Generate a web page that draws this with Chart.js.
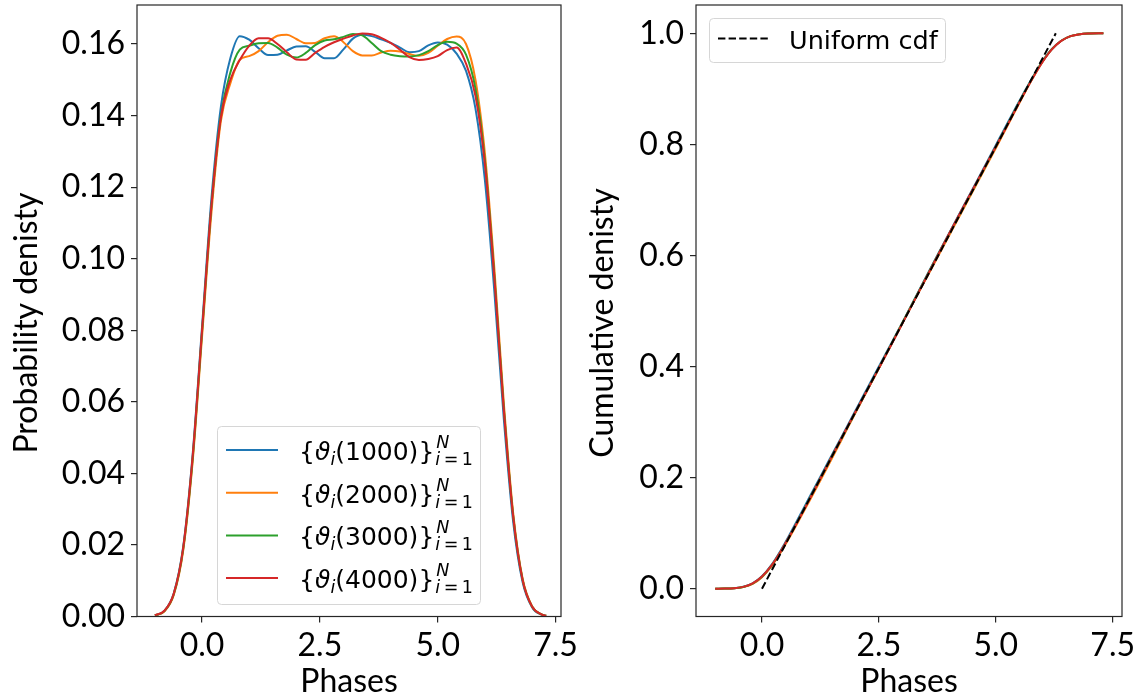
<!DOCTYPE html>
<html><head><meta charset="utf-8">
<script src="https://cdn.jsdelivr.net/npm/chart.js@4/dist/chart.umd.min.js"></script>
<style>
html,body{margin:0;padding:0;background:#fff;overflow:hidden;width:1141px;height:699px;position:relative;}
canvas{position:absolute;top:0;}
#c1{left:0px}
#c2{left:560px}
</style></head><body>
<canvas id="c1" width="600" height="699"></canvas>
<canvas id="c2" width="600" height="699"></canvas>
<script>
// ---------- data ----------
const phases = [-1.0,-0.8,-0.6,-0.4,-0.2,0.0,0.2,0.4,0.6,0.8,1.0,1.2,1.4,1.6,1.8,2.0,2.2,2.4,2.6,2.8,3.0,3.2,3.4,3.6,3.8,4.0,4.2,4.4,4.6,4.8,5.0,5.2,5.4,5.6,5.8,6.0,6.2,6.4,6.6,6.8,7.0,7.2,7.3];

const pdf1000 = [0.0003,0.0016,0.0065,0.0195,0.0452,0.0810,0.1170,0.1425,0.1560,0.1622,0.1612,0.1588,0.1569,0.1570,0.1582,0.1593,0.1594,0.1578,0.1560,0.1560,0.1585,0.1615,0.1626,0.1622,0.1613,0.1603,0.1590,0.1577,0.1580,0.1596,0.1604,0.1598,0.1573,0.1525,0.1420,0.1220,0.0910,0.0555,0.0265,0.0096,0.0026,0.0005,0.0002];
const pdf2000 = [0.0003,0.0014,0.0060,0.0184,0.0432,0.0782,0.1130,0.1385,0.1490,0.1556,0.1566,0.1580,0.1605,0.1623,0.1626,0.1614,0.1602,0.1603,0.1616,0.1622,0.1605,0.1580,0.1568,0.1568,0.1576,0.1581,0.1579,0.1572,0.1567,0.1575,0.1595,0.1614,0.1621,0.1600,0.1500,0.1295,0.0975,0.0600,0.0290,0.0106,0.0029,0.0006,0.0002];
const pdf3000 = [0.0003,0.0015,0.0062,0.0189,0.0440,0.0795,0.1148,0.1400,0.1520,0.1584,0.1595,0.1602,0.1603,0.1590,0.1570,0.1562,0.1575,0.1597,0.1610,0.1613,0.1620,0.1628,0.1624,0.1603,0.1580,0.1570,0.1566,0.1565,0.1569,0.1580,0.1597,0.1606,0.1601,0.1570,0.1475,0.1275,0.0955,0.0585,0.0282,0.0103,0.0028,0.0006,0.0002];
const pdf4000 = [0.0003,0.0016,0.0064,0.0192,0.0446,0.0800,0.1150,0.1395,0.1500,0.1555,0.1595,0.1616,0.1616,0.1600,0.1577,0.1557,0.1556,0.1575,0.1592,0.1605,0.1615,0.1624,0.1629,0.1627,0.1617,0.1603,0.1584,0.1563,0.1555,0.1558,0.1566,0.1583,0.1590,0.1545,0.1455,0.1265,0.0948,0.0580,0.0280,0.0102,0.0028,0.0006,0.0002];

const cdf1000 = [0.0000,0.0002,0.0009,0.0034,0.0098,0.0224,0.0425,0.0690,0.0990,0.1305,0.1624,0.1942,0.2258,0.2574,0.2890,0.3208,0.3527,0.3845,0.4160,0.4473,0.4790,0.5112,0.5436,0.5760,0.6080,0.6398,0.6715,0.7030,0.7347,0.7665,0.7985,0.8305,0.8620,0.8930,0.9228,0.9498,0.9717,0.9867,0.9950,0.9985,0.9997,1.0000,1.0000];
const cdf2000 = [0.0000,0.0002,0.0007,0.0030,0.0088,0.0208,0.0400,0.0653,0.0940,0.1245,0.1558,0.1873,0.2192,0.2516,0.2842,0.3166,0.3488,0.3809,0.4133,0.4457,0.4780,0.5098,0.5413,0.5726,0.6040,0.6356,0.6672,0.6987,0.7300,0.7614,0.7931,0.8253,0.8578,0.8900,0.9208,0.9490,0.9715,0.9867,0.9950,0.9985,0.9997,1.0000,1.0000];
const cdf3000 = [0.0000,0.0002,0.0008,0.0032,0.0093,0.0216,0.0412,0.0671,0.0965,0.1276,0.1594,0.1913,0.2233,0.2552,0.2868,0.3181,0.3496,0.3813,0.4134,0.4456,0.4780,0.5105,0.5430,0.5753,0.6071,0.6386,0.6700,0.7013,0.7326,0.7641,0.7959,0.8280,0.8601,0.8918,0.9220,0.9493,0.9715,0.9866,0.9950,0.9985,0.9997,1.0000,1.0000];
const cdf4000 = [0.0000,0.0002,0.0008,0.0033,0.0095,0.0219,0.0415,0.0672,0.0963,0.1270,0.1585,0.1907,0.2230,0.2553,0.2871,0.3185,0.3497,0.3810,0.4127,0.4447,0.4769,0.5093,0.5418,0.5744,0.6068,0.6390,0.6708,0.7022,0.7334,0.7646,0.7958,0.8273,0.8591,0.8906,0.9208,0.9484,0.9710,0.9864,0.9949,0.9985,0.9997,1.0000,1.0000];

const uniformX = [0, 6.2832];
const uniformY = [0, 1];

const seriesNames = ['1000','2000','3000','4000'];
const xTicks = [0, 2.5, 5, 7.5];
const pdfTicks = [0, 0.02, 0.04, 0.06, 0.08, 0.10, 0.12, 0.14, 0.16];
const cdfTicks = [0, 0.2, 0.4, 0.6, 0.8, 1.0];

// ---------- styling ----------
const colors = ['#1f77b4','#ff7f0e','#2ca02c','#d62728'];
const TICK_FONT = {family:'Lato', size:32};
const LEG_FAM = '"DejaVu Sans"';

function pts(xs, ys){ return xs.map((x,i)=>({x:x, y:ys[i]})); }

const framePlugin = {
  id:'frame',
  afterDatasetsDraw(chart){
    const a = chart.chartArea, ctx = chart.ctx;
    ctx.save();
    ctx.strokeStyle = '#262626'; ctx.lineWidth = 1.2;
    ctx.strokeRect(a.left, a.top, a.right - a.left, a.bottom - a.top);
    ctx.restore();
  }
};

function legendBox(ctx, x, y, w, h){
  ctx.beginPath();
  ctx.roundRect(x+0.5, y+0.5, w, h, 4);
  ctx.fillStyle = 'rgba(255,255,255,0.8)';
  ctx.fill();
  ctx.strokeStyle = '#d6d6d6'; ctx.lineWidth = 1;
  ctx.stroke();
}

function drawMathLabel(ctx, x, y, n){
  const big = 25, small = 17.5;
  ctx.fillStyle = '#000'; ctx.textAlign = 'left'; ctx.textBaseline = 'alphabetic';
  const seg = (t, font, dy) => { ctx.font = font; ctx.fillText(t, x, y + dy); x += ctx.measureText(t).width; };
  seg('{', `${big}px ${LEG_FAM}`, 0);
  seg('\u03D1', `italic ${big}px ${LEG_FAM}`, 0);
  seg('i', `italic ${small}px ${LEG_FAM}`, 5);
  seg('(' + n + ')}', `${big}px ${LEG_FAM}`, 0);
  const x0 = x + 1;
  ctx.font = `italic ${small}px ${LEG_FAM}`;
  ctx.fillText('N', x0 + 1, y - 12);
  x = x0;
  seg('i', `italic ${small}px ${LEG_FAM}`, 5);
  seg('\u2009=\u2009', `${small}px ${LEG_FAM}`, 5);
  seg('1', `${small}px ${LEG_FAM}`, 5);
}

const pdfLegend = {
  id:'pdfLegend',
  afterDraw(chart){
    const ctx = chart.ctx;
    ctx.save();
    legendBox(ctx, 217, 426, 263, 178);
    seriesNames.forEach((n, i) => {
      const ly = 450 + i * 42.7;
      ctx.beginPath(); ctx.moveTo(226, ly); ctx.lineTo(278, ly);
      ctx.strokeStyle = colors[i]; ctx.lineWidth = 2; ctx.stroke();
      drawMathLabel(ctx, 299, ly + 10, n);
    });
    ctx.restore();
  }
};

const cdfLegend = {
  id:'cdfLegend',
  afterDraw(chart){
    const ctx = chart.ctx;
    ctx.save();
    legendBox(ctx, 149, 18, 236, 44);
    ctx.beginPath(); ctx.moveTo(158, 38.5); ctx.lineTo(208, 38.5);
    ctx.setLineDash([7.4, 3.2]);
    ctx.strokeStyle = '#000'; ctx.lineWidth = 2; ctx.stroke();
    ctx.setLineDash([]);
    ctx.fillStyle = '#000'; ctx.font = `25.5px ${LEG_FAM}`;
    ctx.textAlign = 'left'; ctx.textBaseline = 'alphabetic';
    ctx.fillText('Uniform cdf', 229, 48.5);
    ctx.restore();
  }
};

function xScale(min, max){
  return {
    type:'linear', min:min, max:max,
    afterBuildTicks: s => { s.ticks = xTicks.map(v => ({value:v})); },
    afterFit: s => { s.height = 82.5; s.paddingLeft = 0; s.paddingRight = 0; },
    grid:{drawOnChartArea:false, drawTicks:true, tickLength:6, color:'#262626', lineWidth:1.2},
    border:{display:false},
    ticks:{color:'#000', font:TICK_FONT, padding:4, maxRotation:0, autoSkip:false,
           callback: v => Number(v).toFixed(1)},
    title:{display:true, text:'Phases', color:'#000', font:{family:'Lato', size:32, lineHeight:1}, padding:{top:0, bottom:1}}
  };
}
function yScale(min, max, ticks, dec, width, title, tpad){
  return {
    type:'linear', min:min, max:max,
    afterBuildTicks: s => { s.ticks = ticks.map(v => ({value:v})); },
    afterFit: s => { s.width = width; s.paddingTop = 0; s.paddingBottom = 0; },
    grid:{drawOnChartArea:false, drawTicks:true, tickLength:6, color:'#262626', lineWidth:1.2},
    border:{display:false},
    ticks:{color:'#000', font:TICK_FONT, padding:6, autoSkip:false,
           callback: v => Number(v).toFixed(dec)},
    title:{display:true, text:title, color:'#000', font:{family:'Lato', size:32, lineHeight:1}, padding:{top:tpad, bottom:0}}
  };
}

const common = {
  responsive:false, animation:false, devicePixelRatio:1,
  plugins:{legend:{display:false}, tooltip:{enabled:false}},
  elements:{point:{radius:0}, line:{borderWidth:2, cubicInterpolationMode:'monotone'}}
};

const pdfSets = [pdf1000, pdf2000, pdf3000, pdf4000];
new Chart(document.getElementById('c1'), {
  type:'line',
  data:{datasets: pdfSets.map((ys, i) => ({
    label:'{\u03D1_i(' + seriesNames[i] + ')}^N_{i=1}',
    data: pts(phases, ys), borderColor: colors[i], backgroundColor: colors[i],
    fill:false, order: 4 - i
  }))},
  options: Object.assign({}, common, {
    layout:{padding:{top:5, right:39, left:0, bottom:0}},
    scales:{ x: xScale(-1.38, 7.615), y: yScale(0, 0.1709, pdfTicks, 2, 137, 'Probability denisty   ', 10.4) }
  }),
  plugins:[framePlugin, pdfLegend]
});

const cdfSets = [cdf1000, cdf2000, cdf3000, cdf4000];
const cdfData = cdfSets.map((ys, i) => ({
  label:'{\u03D1_i(' + seriesNames[i] + ')}^N_{i=1}',
  data: pts(phases, ys), borderColor: colors[i], backgroundColor: colors[i],
  fill:false, order: 5 - i
}));
cdfData.push({
  label:'Uniform cdf', data: pts(uniformX, uniformY), borderColor:'#000', backgroundColor:'#000',
  borderDash:[7.4, 3.2], borderWidth:2, tension:0, cubicInterpolationMode:'default', fill:false, order:0
});
new Chart(document.getElementById('c2'), {
  type:'line',
  data:{datasets: cdfData},
  options: Object.assign({}, common, {
    layout:{padding:{top:5, right:38, left:0, bottom:0}},
    scales:{ x: xScale(-1.411, 7.699), y: yScale(-0.05, 1.051, cdfTicks, 1, 136, 'Cumulative denisty   ', 27) }
  }),
  plugins:[framePlugin, cdfLegend]
});
</script>
</body></html>
